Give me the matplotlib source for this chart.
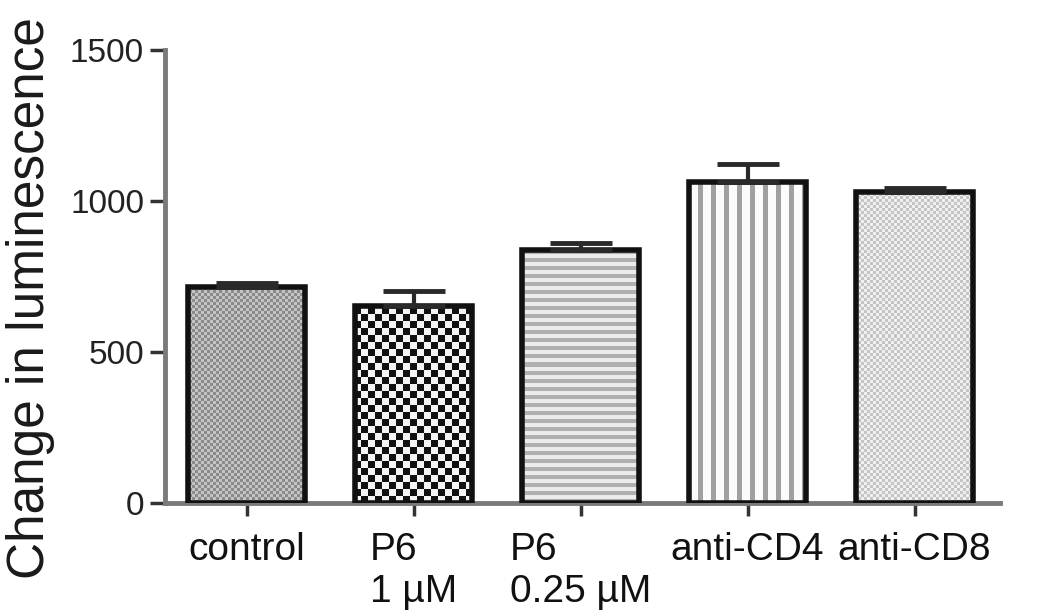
import matplotlib
matplotlib.use("Agg")
import matplotlib.pyplot as plt
import numpy as np

# data
groups = ["control", "P6\n1 µM", "P6\n0.25 µM", "anti-CD4", "anti-CD8"]
means = [715, 652, 838, 1063, 1030]
sem = [15, 50, 22, 60, 13]
yticks = [0, 500, 1000, 1500]

plt.rcParams['font.family'] = ['Liberation Sans', 'DejaVu Sans']

fig = plt.figure(figsize=(10.5, 6.16), dpi=100)
ax = fig.add_axes([0.1571, 0.1834, 0.795, 0.7354])

xlim = (-0.49, 4.51)
ylim = (0, 1500)
x = np.arange(len(groups))

# pixel size of the axes, used to build fill textures
W = int(round(0.795 * 1050))
H = int(round(0.7354 * 616))
ii, jj = np.indices((H, W))


def gray_img(mask, c_on, c_off):
    on = np.array(matplotlib.colors.to_rgb(c_on))
    off = np.array(matplotlib.colors.to_rgb(c_off))
    return np.where(mask[..., None], on, off)


textures = [
    gray_img(((ii // 3 + jj // 3) % 2) == 0, "#8a8a8a", "#c4c4c4"),   # control
    gray_img(((ii // 7 + jj // 7) % 2) == 0, "#111111", "#f4f4f4"),   # P6 1 uM
    gray_img((ii % 8) < 4, "#b0b0b0", "#ececec"),                     # P6 0.25 uM
    gray_img((jj % 13) < 5, "#a0a0a0", "#fbfbfb"),                     # anti-CD4
    gray_img(((ii // 3 + jj // 3) % 2) == 0, "#c4c4c4", "#f0f0f0"),   # anti-CD8
]

bars = ax.bar(x, means, width=0.7, facecolor="none", edgecolor="#111111",
              linewidth=4, zorder=3)
for b, tex in zip(bars, textures):
    im = ax.imshow(tex, extent=(xlim[0], xlim[1], ylim[0], ylim[1]), origin="lower",
                   aspect="auto", interpolation="nearest", zorder=2)
    im.set_clip_path(b)

ax.errorbar(x, means, yerr=[np.zeros(len(sem)), sem], fmt="none", ecolor="#2a2a2a",
            elinewidth=3, capsize=22, capthick=3.5, zorder=4)

ax.set_xlim(*xlim)
ax.set_ylim(*ylim)
ax.set_yticks(yticks)
ax.set_yticklabels([str(v) for v in yticks])
ax.set_xticks(x)
ax.set_xticklabels(groups, fontsize=28, color="#111111", linespacing=1.2,
                   multialignment="left")

for s in ["top", "right"]:
    ax.spines[s].set_visible(False)
for s in ["left", "bottom"]:
    ax.spines[s].set_color("#7a7a7a")
    ax.spines[s].set_linewidth(3.5)

ax.tick_params(axis="y", direction="out", length=11, width=2.5, color="#333333",
               labelsize=24, labelcolor="#222222", pad=4)
ax.tick_params(axis="x", direction="out", length=9, width=2.5, color="#333333",
               pad=12)

fig.text(0.029, 1 - 298 / 616, "Change in luminescence", rotation=90,
         ha="center", va="center", fontsize=37, color="#1a1a1a")

fig.savefig("out.png", dpi=100)
